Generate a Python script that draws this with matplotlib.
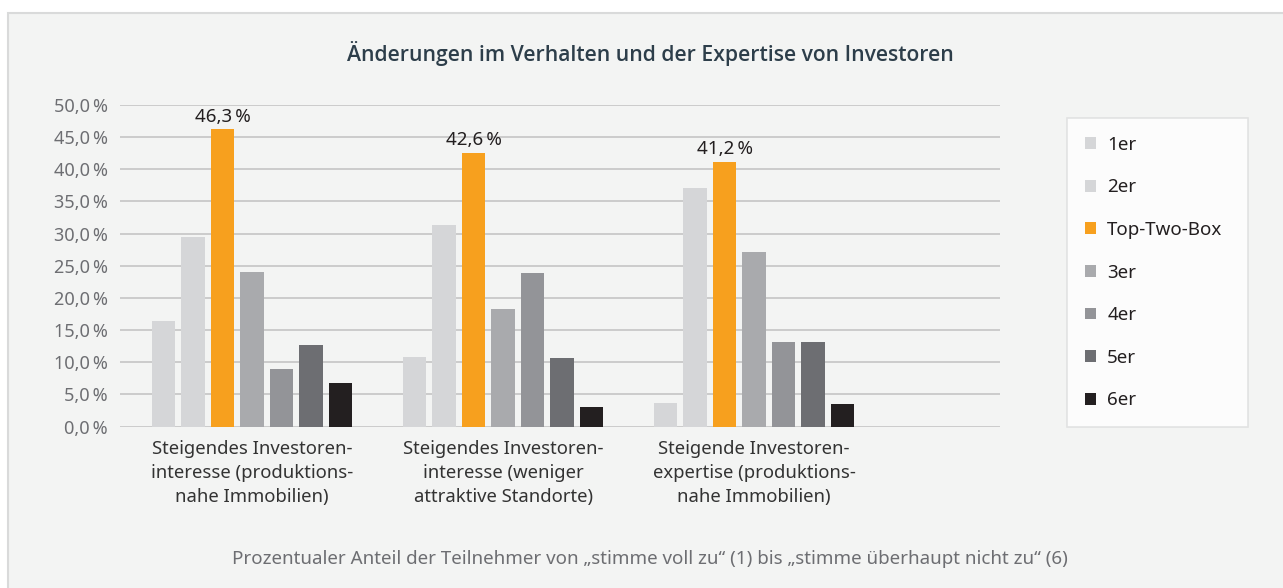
import matplotlib.pyplot as plt
import matplotlib.patches as mpatches
import numpy as np

plt.rcParams['font.family'] = ['Noto Sans', 'DejaVu Sans']

categories = ['Steigendes Investoren-\ninteresse (produktions-\nnahe Immobilien)',
              'Steigendes Investoren-\ninteresse (weniger\nattraktive Standorte)',
              'Steigende Investoren-\nexpertise (produktions-\nnahe Immobilien)']
series = ['1er', '2er', 'Top-Two-Box', '3er', '4er', '5er', '6er']
v_1er = [16.4, 10.8, 3.7]
v_2er = [29.4, 31.3, 37.1]
v_ttb = [46.3, 42.6, 41.2]
v_3er = [24.0, 18.3, 27.1]
v_4er = [9.0, 23.9, 13.1]
v_5er = [12.6, 10.7, 13.1]
v_6er = [6.7, 3.0, 3.5]
values = [v_1er, v_2er, v_ttb, v_3er, v_4er, v_5er, v_6er]
colors = ['#d5d6d8', '#d5d6d8', '#f7a01e', '#a9aaad', '#939498', '#6d6e72', '#231f20']

bg = '#f3f4f3'
fig = plt.figure(figsize=(12.83, 5.88), dpi=100, facecolor='white')
# outer frame
fig.patches.append(mpatches.Rectangle((8 / 1283, -0.1), 1.2, 1 - 13 / 588 + 0.1,
                                      transform=fig.transFigure, facecolor=bg,
                                      edgecolor='#d9dada', linewidth=1.5, zorder=-5))

ax = fig.add_axes([120 / 1283, 1 - 426.5 / 588, 880 / 1283, 321.5 / 588])
ax.set_facecolor(bg)
x = np.arange(len(categories))
step = 0.1175
width = 0.092
for i, (name, vals, c) in enumerate(zip(series, values, colors)):
    b = ax.bar(x + (i - 3) * step, vals, width, color=c, label=name, zorder=3)
    if name == 'Top-Two-Box':
        for rect, v in zip(b, vals):
            ax.text(rect.get_x() + rect.get_width() / 2, v + 0.5,
                    f'{v:.1f}'.replace('.', ',') + '\u2009%',
                    ha='center', va='bottom', fontsize=13.5, color='#231f20')

ax.set_ylim(0, 50)
ax.set_xlim(-0.526, 2.98)
yt = np.arange(0, 55, 5)
ax.set_yticks(yt)
ax.set_yticklabels([f'{t:.1f}'.replace('.', ',') + '\u2009%' for t in yt],
                   fontsize=13, color='#6d6e72')
ax.set_xticks(x)
ax.set_xticklabels(categories, fontsize=13.3, color='#333333', linespacing=1.4)
ax.tick_params(axis='both', length=0)
ax.tick_params(axis='y', pad=9)
ax.tick_params(axis='x', pad=10)
ax.grid(axis='y', color='#c8c8c8', linewidth=1.3, zorder=0)
for s in ax.spines.values():
    s.set_visible(False)

fig.text(650 / 1283, 1 - 53 / 588, 'Änderungen im Verhalten und der Expertise von Investoren',
         ha='center', va='center', fontsize=15.2, fontweight='semibold', color='#2d3e4a',
         family=['Open Sans', 'DejaVu Sans'])
fig.text(650 / 1283, 1 - 559 / 588,
         'Prozentualer Anteil der Teilnehmer von „stimme voll zu“ (1) bis „stimme überhaupt nicht zu“ (6)',
         ha='center', va='center', fontsize=13.5, color='#6d6e72')

leg = fig.legend(loc='upper left', bbox_to_anchor=(1067 / 1283, 1 - 118 / 588, 181 / 1283, 0),
                 mode='expand', frameon=True, fancybox=False, fontsize=13.5,
                 handlelength=0.6, handleheight=0.6, handletextpad=0.6,
                 labelspacing=1.31, borderpad=0.95, borderaxespad=0)
leg.get_frame().set_facecolor('white')
leg.get_frame().set_edgecolor('#dcdddd')
leg.get_frame().set_linewidth(1.2)
for t in leg.get_texts():
    t.set_color('#231f20')

fig.savefig('out.png', dpi=100, facecolor='white')
